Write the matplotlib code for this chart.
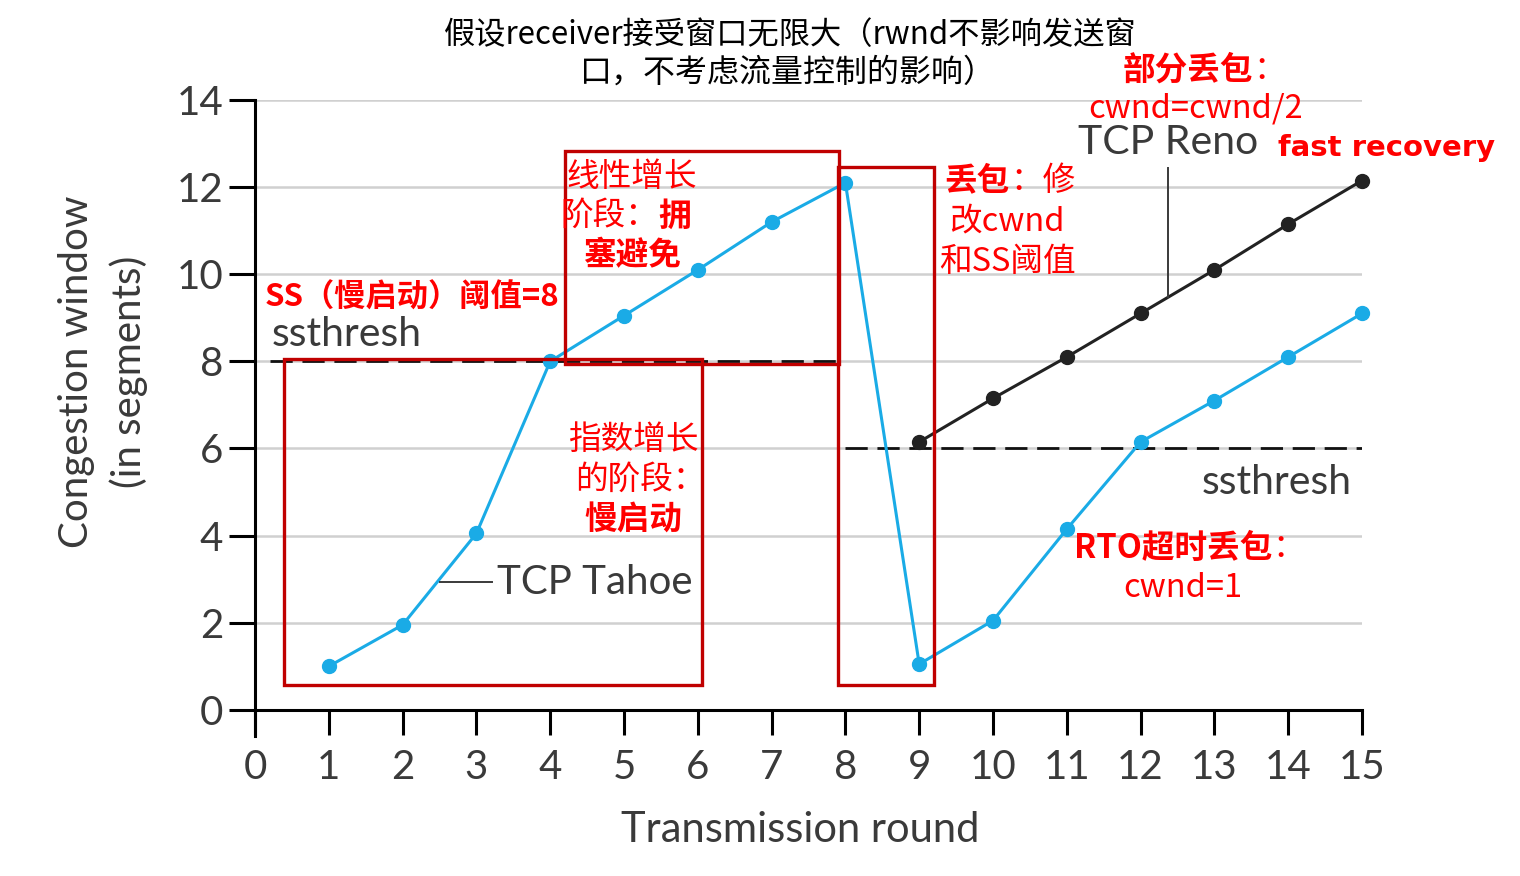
import matplotlib
matplotlib.use("Agg")
from matplotlib import pyplot as plt
from matplotlib.patches import Rectangle

# data
rounds = list(range(1, 16))
tahoe_cwnd = [1, 1.95, 4.05, 8, 9.05, 10.1, 11.2, 12.1, 1.05, 2.05, 4.15, 6.15, 7.1, 8.1, 9.1]
reno_rounds = list(range(9, 16))
reno_cwnd = [6.15, 7.15, 8.1, 9.1, 10.1, 11.15, 12.15]
ssthresh_old = 8
ssthresh_new = 6
xticks = list(range(0, 16))
yticks = list(range(0, 15, 2))

W, H = 1520, 876
CJK = ['Noto Sans CJK SC', 'DejaVu Sans']
EN = ['Lato', 'DejaVu Sans']
RED = '#ff0000'
BOX = '#c00000'
BLUE = '#1aabe6'
GRAY = '#3a3a3a'


def px(x, y):
    return x / W, 1 - y / H


fig = plt.figure(figsize=(W / 100, H / 100), dpi=100)
ax = fig.add_axes([255 / W, 1 - 736 / H, (1362 - 255) / W, (736 - 100) / H])
ax.set_xlim(0, 15)
ax.set_ylim(-0.6, 14)

for s in ['top', 'right']:
    ax.spines[s].set_visible(False)
ax.spines['bottom'].set_position(('data', 0))
ax.spines['left'].set_linewidth(2.2)
ax.spines['bottom'].set_linewidth(2.2)
ax.set_xticks(xticks)
ax.set_yticks(yticks)
ax.tick_params(axis='y', length=19, width=2.2, pad=4, labelsize=29, labelcolor=GRAY)
ax.tick_params(axis='x', length=18, width=2.2, pad=10, labelsize=29, labelcolor=GRAY)
for lab in ax.get_xticklabels() + ax.get_yticklabels():
    lab.set_family(EN)

for y in yticks[1:]:
    ax.axhline(y, color='#d0d0d0', lw=1.8, zorder=0)

# ssthresh lines
ax.plot([0.2, 8], [ssthresh_old, ssthresh_old], ls=(0, (8, 3.5)), color='#111', lw=2, zorder=2)
ax.plot([8, 15], [ssthresh_new, ssthresh_new], ls=(0, (8, 3.5)), color='#111', lw=2, zorder=2)

ax.plot(rounds, tahoe_cwnd, color=BLUE, lw=2.2, marker='o', ms=10, clip_on=False, zorder=4)
ax.plot(reno_rounds, reno_cwnd, color='#222222', lw=2.2, marker='o', ms=10, clip_on=False, zorder=5)

# leader lines
fig.add_artist(plt.Line2D([440 / W, 492 / W], [1 - 582 / H] * 2, color=GRAY, lw=1.4))
fig.add_artist(plt.Line2D([1168 / W] * 2, [1 - 168 / H, 1 - 297 / H], color=GRAY, lw=1.4))

# red boxes
for x0, y0, x1, y1 in [(0.39, 0.57, 6.06, 8.06), (4.2, 7.95, 7.92, 12.83), (7.9, 0.57, 9.2, 12.47)]:
    ax.add_patch(Rectangle((x0, y0), x1 - x0, y1 - y0, fill=False, ec=BOX, lw=2.4,
                           clip_on=False, zorder=6))

# english labels
fig.text(*px(800, 830), 'Transmission round', family=EN, fontsize=30, color=GRAY, ha='center', va='center')
fig.text(*px(103, 372), 'Congestion window\n(in segments)', family=EN, fontsize=29, color=GRAY,
         ha='center', va='center', rotation=90, linespacing=1.45)
fig.text(*px(272, 335), 'ssthresh', family=EN, fontsize=29.5, color=GRAY, ha='left', va='center')
fig.text(*px(1352, 482), 'ssthresh', family=EN, fontsize=29.5, color=GRAY, ha='right', va='center')
fig.text(*px(497, 582), 'TCP Tahoe', family=EN, fontsize=29, color=GRAY, ha='left', va='center')
fig.text(*px(1078, 143), 'TCP Reno', family=EN, fontsize=29.5, color=GRAY, ha='left', va='center')

# title
fig.text(*px(790, 35), '假设receiver接受窗口无限大（rwnd不影响发送窗', family=CJK, fontsize=22.5, ha='center', va='center')
fig.text(*px(788, 73), '口，不考虑流量控制的影响）', family=CJK, fontsize=23, ha='center', va='center')


def red(x, y, s, ha='center', bold=False, size=23.5):
    fig.text(*px(x, y), s, family=CJK, fontsize=size, color=RED, ha=ha, va='center',
             fontweight='bold' if bold else 'normal')


red(265, 298, 'SS（慢启动）阈值=8', ha='left', bold=True, size=22.5)
red(632, 177, '线性增长')
red(658, 216, '阶段：', ha='right')
red(658, 216, '拥', ha='left', bold=True)
red(632, 256, '塞避免', bold=True)
red(633, 440, '指数增长')
red(640, 480, '的阶段：')
red(633, 520, '慢启动', bold=True)
red(1010, 181, '丢包', ha='right', bold=True)
red(1010, 181, '：修', ha='left')
red(1007, 221, '改cwnd')
red(1007, 262, '和SS阈值')
red(1253, 70, '部分丢包', ha='right', bold=True)
red(1253, 70, '：', ha='left')
red(1196, 108, 'cwnd=cwnd/2')
fig.text(*px(1278, 148), 'fast recovery', family=['DejaVu Sans'], fontsize=21, color=RED,
         fontweight='bold', ha='left', va='center')
red(1272, 548, 'RTO超时丢包', ha='right', bold=True)
red(1272, 548, '：', ha='left')
red(1183, 588, 'cwnd=1')

fig.savefig('out.png', dpi=100)
